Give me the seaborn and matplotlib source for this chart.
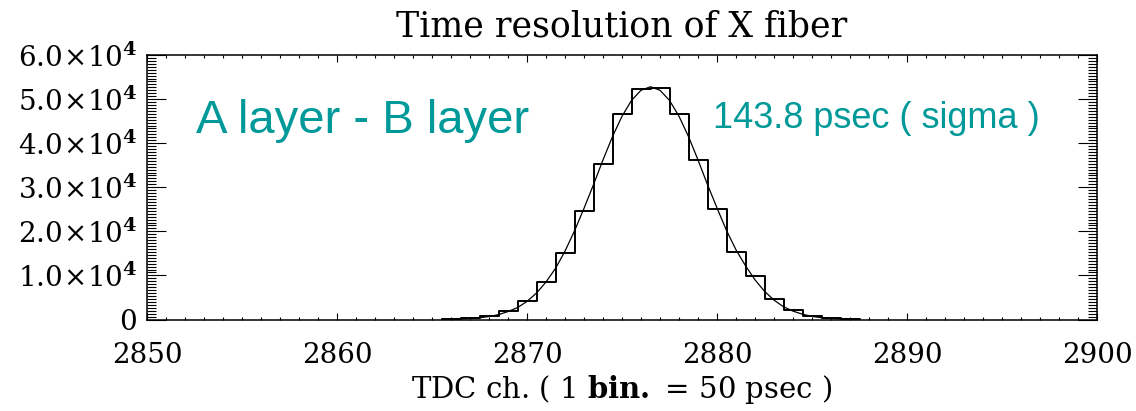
import matplotlib
matplotlib.use("Agg")
import matplotlib.pyplot as plt
import seaborn as sns
import numpy as np
from matplotlib.ticker import MultipleLocator, AutoMinorLocator

# ---- data ----
bin_centers = [2866, 2867, 2868, 2869, 2870, 2871, 2872, 2873, 2874, 2875, 2876,
               2877, 2878, 2879, 2880, 2881, 2882, 2883, 2884, 2885, 2886, 2887]
bin_counts = [100, 300, 700, 1900, 4200, 8600, 15100, 24500, 35200, 46700, 52200,
              52600, 46600, 36200, 25000, 15300, 9900, 4600, 2200, 900, 450, 200]
bin_edges = [2865.5 + i for i in range(len(bin_centers) + 1)]

fit_x = [2865.5, 2866.0, 2866.5, 2867.0, 2867.5, 2868.0, 2868.5, 2869.0, 2869.5,
         2870.0, 2870.5, 2871.0, 2871.5, 2872.0, 2872.5, 2873.0, 2873.5, 2874.0,
         2874.5, 2875.0, 2875.5, 2876.0, 2876.5, 2877.0, 2877.5, 2878.0, 2878.5,
         2879.0, 2879.5, 2880.0, 2880.5, 2881.0, 2881.5, 2882.0, 2882.5, 2883.0,
         2883.5, 2884.0, 2884.5, 2885.0, 2885.5, 2886.0, 2886.5, 2887.0, 2887.5]
fit_y = [30, 70, 130, 230, 390, 670, 1100, 1800, 2700, 4100, 6000, 8500, 11600,
         15500, 20100, 25200, 30600, 36200, 41500, 46100, 49700, 52000, 52800,
         52000, 49700, 46100, 41500, 36200, 30600, 25300, 20200, 15800, 12200,
         9000, 6400, 4400, 2900, 1900, 1200, 700, 400, 230, 130, 70, 30]

y_ticks = [0, 10000, 20000, 30000, 40000, 50000, 60000]
y_tick_labels = ["0"] + [r"$%d.0\!\times\!10^{\mathbf{4}}$" % k for k in range(1, 7)]
x_ticks = [2850, 2860, 2870, 2880, 2890, 2900]
x_tick_labels = ["2850", "2860", "2870", "2880", "2890", "2900"]

title = "Time resolution of X fiber"
xlabel = r"TDC ch. ( 1 $\mathbf{bin.}$ = 50 psec )"
label_left = "A layer - B layer"
label_right = "143.8 psec ( sigma )"
teal = "#009999"

# ---- style ----
sns.set_style("white")
plt.rcParams["font.family"] = ["DejaVu Serif"]
plt.rcParams["mathtext.fontset"] = "dejavuserif"
plt.rcParams["text.color"] = "black"
plt.rcParams["axes.labelcolor"] = "black"
plt.rcParams["xtick.color"] = "black"
plt.rcParams["ytick.color"] = "black"

fig = plt.figure(figsize=(11.36, 4.11), dpi=100)
ax = fig.add_axes([147 / 1136, 1 - 319.5 / 411, (1097 - 147) / 1136, (319.5 - 55) / 411])

sns.histplot(x=bin_centers, weights=bin_counts, bins=bin_edges, element="step",
             fill=False, color="black", linewidth=1.4, ax=ax)
sns.lineplot(x=fit_x, y=fit_y, color="black", linewidth=0.9, ax=ax)

ax.set_xlim(2850, 2900)
ax.set_ylim(0, 60000)
ax.set_xticks(x_ticks)
ax.set_xticklabels(x_tick_labels)
ax.set_yticks(y_ticks)
ax.set_yticklabels(y_tick_labels)
ax.xaxis.set_minor_locator(MultipleLocator(1))
ax.yaxis.set_minor_locator(AutoMinorLocator(15))

for s in ax.spines.values():
    s.set_visible(True)
    s.set_color("black")
    s.set_linewidth(1.1)

ax.tick_params(axis="x", which="both", direction="in", top=True, bottom=True,
               colors="black", width=0.8, labelsize=20, pad=16)
ax.tick_params(axis="x", which="major", length=5)
ax.tick_params(axis="x", which="minor", length=2.5)
ax.tick_params(axis="y", which="both", direction="in", left=True, right=True,
               colors="black", width=0.8, labelsize=20, pad=7)
ax.tick_params(axis="y", which="major", length=14)
ax.tick_params(axis="y", which="minor", length=6.5)

ax.set_ylabel("")
ax.set_xlabel(xlabel, fontsize=21, labelpad=3, color="black")
ax.set_title(title, fontsize=25, pad=13, color="black")

ax.text(2852.6, 42200, label_left, color=teal, fontsize=34,
        family=["Liberation Sans", "DejaVu Sans"], ha="left", va="baseline")
ax.text(2879.77, 43350, label_right, color=teal, fontsize=26,
        family=["Liberation Sans", "DejaVu Sans"], ha="left", va="baseline")

fig.savefig("out.png", dpi=100)
